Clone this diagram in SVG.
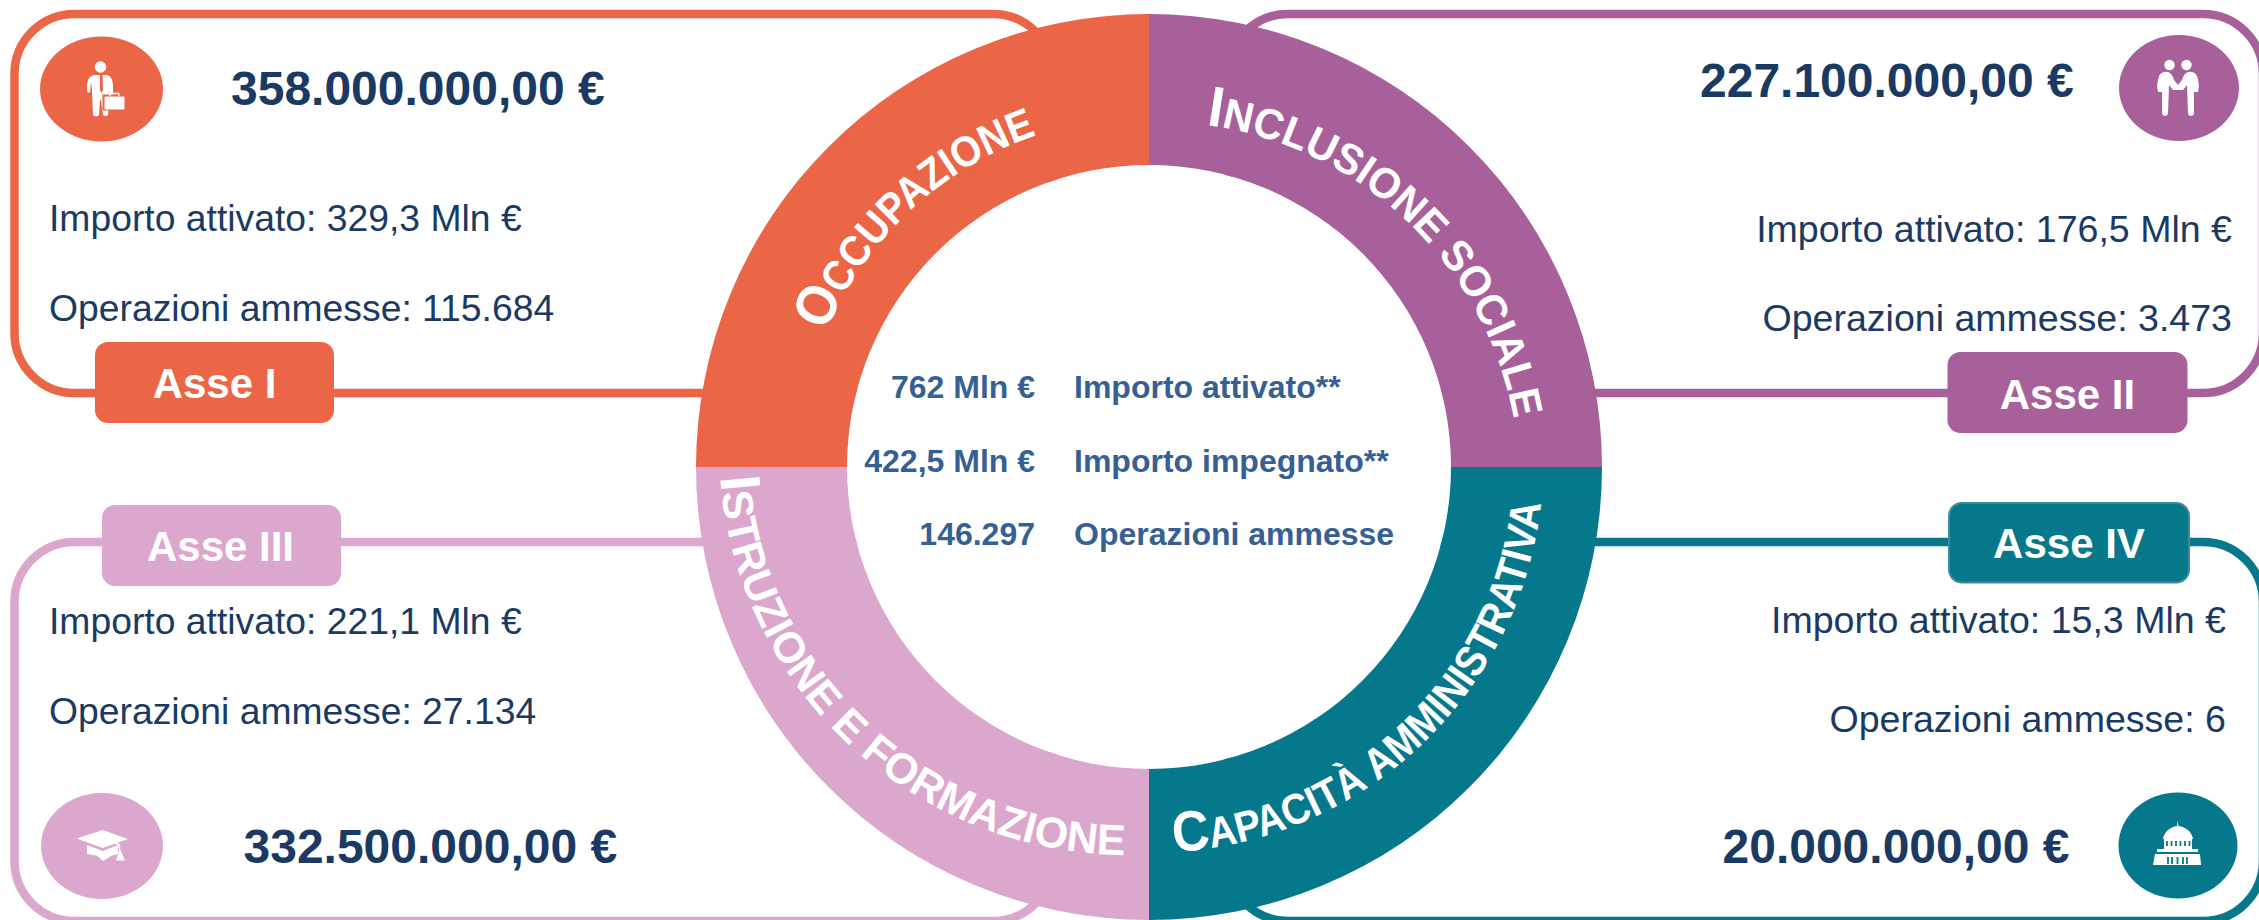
<svg xmlns="http://www.w3.org/2000/svg" width="2259" height="920" viewBox="0 0 2259 920">
<style>
text{font-family:"Liberation Sans",Arial,sans-serif}
.box{fill:none;stroke-width:8.5}
.amt{font-size:48px;font-weight:700;fill:#1B3A63}
.info{font-size:37.3px;fill:#1B3A63}
.inf2{font-size:37.55px;fill:#1B3A63;text-anchor:end}
.tag{font-size:42px;font-weight:700;fill:#fff;text-anchor:middle}
.mid{font-size:32px;font-weight:700;fill:#365F94}
.end{text-anchor:end}
.ring{font-size:43px;font-weight:700;fill:#fff}
.cap{font-size:57px}
.ico{fill:#fff}
</style>
<defs>
<path id="pOcc" d="M 826 332 A 350 350 0 0 1 1037 135"/>
<path id="pInc" d="M 1206 125 A 362 362 0 0 1 1514 420"/>
<path id="pIst" d="M 720 477 A 410 410 0 0 0 1125 855"/>
<path id="pCap" d="M 1174 852 A 392 392 0 0 0 1541 503"/>
<g id="shake">
<circle cx="2169.5" cy="65" r="5.2"/>
<path d="M2159,76 Q2162,71 2168,72 Q2172,73 2174,80 L2178,85 L2178.6,90 L2173,90 L2169,85 L2168,114 Q2165,118 2162,114 L2162,92 L2158,92 Q2156,85 2159,76Z"/>
</g>
</defs>

<g id="connectors">
<rect class="box" x="14.5" y="14" width="1038.5" height="379" rx="60" stroke="#EB6547"/>
<rect class="box" x="1228" y="14" width="1035" height="379" rx="60" stroke="#A7609A"/>
<rect class="box" x="14.5" y="542" width="1038.5" height="379" rx="60" stroke="#DBA7CD"/>
<rect class="box" x="1228" y="542" width="1035" height="379" rx="60" stroke="#05798B"/>
</g>

<g id="ring">
<circle cx="1149" cy="467" r="302" fill="#fff"/>
<path d="M696 467A453 453 0 0 1 1149 14V165A302 302 0 0 0 847 467Z" fill="#EB6547"/>
<path d="M1149 14A453 453 0 0 1 1602 467H1451A302 302 0 0 0 1149 165Z" fill="#A7609A"/>
<path d="M696 467A453 453 0 0 0 1149 920V769A302 302 0 0 1 847 467Z" fill="#DBA7CD"/>
<path d="M1602 467A453 453 0 0 1 1149 920V769A302 302 0 0 0 1451 467Z" fill="#05798B"/>
<text class="ring"><textPath href="#pOcc" textLength="297" lengthAdjust="spacingAndGlyphs"><tspan class="cap">O</tspan>CCUPAZIONE</textPath></text>
<text class="ring"><textPath href="#pInc" textLength="455" lengthAdjust="spacingAndGlyphs"><tspan class="cap">I</tspan>NCLUSIONE SOCIALE</textPath></text>
<text class="ring"><textPath href="#pIst" textLength="608" lengthAdjust="spacingAndGlyphs"><tspan class="cap">I</tspan>STRUZIONE E FORMAZIONE</textPath></text>
<text class="ring"><textPath href="#pCap" textLength="550" lengthAdjust="spacingAndGlyphs"><tspan class="cap">C</tspan>APACITÀ AMMINISTRATIVA</textPath></text>
</g>

<g id="totals">
<text class="mid end" x="1035" y="398">762 Mln €</text>
<text class="mid" x="1074" y="398">Importo attivato**</text>
<text class="mid end" x="1035" y="471.500">422,5 Mln €</text>
<text class="mid" x="1074" y="471.500">Importo impegnato**</text>
<text class="mid end" x="1035" y="544.500">146.297</text>
<text class="mid" x="1074" y="544.500">Operazioni ammesse</text>
</g>

<g id="asse-1">
<ellipse cx="101.500" cy="89" rx="61.500" ry="52.500" fill="#EB6547"/>
<circle class="ico" cx="100.500" cy="67" r="5.700"/>
<path class="ico" d="M94,75 L107,75 Q112,76 113,84 L113,95 L110,95 L109,100 L108,115 Q106,117 103,115 L101,100 L100,100 L99,115 Q96,118 93,115 L92,90 L91,82 L90,92 Q87,94 87,90 L87,84 Q88,76 94,75Z"/>
<path d="M100,75H102.500L103,90L101.300,93L99.800,90Z" fill="#EB6547"/>
<rect x="102.500" y="94.500" width="24" height="16" fill="#EB6547"/>
<rect class="ico" x="104.500" y="96.500" width="20" height="13" rx="1"/>
<path d="M110,96V93.500H119V96" fill="none" stroke="#fff" stroke-width="1.300"/>
<text class="amt" x="231" y="105">358.000.000,00 €</text>
<text class="info" x="49" y="230.500">Importo attivato: 329,3 Mln €</text>
<text class="info" x="49" y="320.500">Operazioni ammesse: 115.684</text>
<rect x="95" y="342" width="239" height="81" rx="13" fill="#EB6547"/>
<text class="tag" x="214.500" y="397.500">Asse I</text>
</g>

<g id="asse-2">
<ellipse cx="2179" cy="88" rx="60" ry="53" fill="#A7609A"/>
<use href="#shake" class="ico"/>
<use href="#shake" class="ico" transform="matrix(-1 0 0 1 4356 0)"/>
<text class="amt" x="1700" y="96.500">227.100.000,00 €</text>
<text class="inf2" x="2232" y="241.500">Importo attivato: 176,5 Mln €</text>
<text class="inf2" x="2232" y="330.500">Operazioni ammesse: 3.473</text>
<rect x="1947.500" y="352" width="240" height="81" rx="13" fill="#A7609A"/>
<text class="tag" x="2067.500" y="408.500">Asse II</text>
</g>

<g id="asse-3">
<ellipse cx="102" cy="846" rx="61" ry="53" fill="#DBA7CD"/>
<path class="ico" d="M87,845L102.700,851L118,845V854L112,855.500L103,861L96.500,855.500L87,854Z"/>
<path class="ico" d="M76.700,838.500L102.700,830L128,839L102.700,848Z"/>
<path d="M104,840L118,845L119,851L116,860.500L125,860.500L120.500,850L120,844L106,839" fill="#fff" opacity=".95"/>
<text class="amt" x="243.500" y="863">332.500.000,00 €</text>
<text class="info" x="49" y="634">Importo attivato: 221,1 Mln €</text>
<text class="info" x="49" y="724">Operazioni ammesse: 27.134</text>
<rect x="102" y="505" width="239" height="81" rx="13" fill="#DBA7CD"/>
<text class="tag" x="220.500" y="561">Asse III</text>
</g>

<g id="asse-4">
<ellipse cx="2178" cy="845.500" rx="59.500" ry="53" fill="#05798B"/>
<path class="ico" d="M2177,826L2177.700,820.500L2178.400,826C2186,827 2192,832 2193,839H2163C2164,832 2170,827 2177,826Z"/>
<rect class="ico" x="2164" y="839" width="28" height="10"/>
<rect class="ico" x="2157" y="849" width="41" height="3"/>
<path class="ico" d="M2155,854H2200L2201,865H2153Z"/>
<path d="M2167,841v5M2171.500,841v5M2176,841v5M2180.500,841v5M2185,841v5M2189.500,841v5M2168,857v7M2172,857v7M2177.500,857v7M2183,857v7M2187,857v7" stroke="#05798B" stroke-width="1.800" fill="none"/>
<path d="M2158,853.200H2198" stroke="#05798B" stroke-width="1"/>
<text class="amt" x="2069.500" y="863" text-anchor="end">20.000.000,00 €</text>
<text class="inf2" x="2226" y="633">Importo attivato: 15,3 Mln €</text>
<text class="inf2" x="2226" y="731.500">Operazioni ammesse: 6</text>
<rect x="1949" y="503" width="240" height="79.500" rx="13" fill="#05798B" stroke="#3F8AA0" stroke-width="2"/>
<text class="tag" x="2069" y="558">Asse IV</text>
</g>
</svg>
